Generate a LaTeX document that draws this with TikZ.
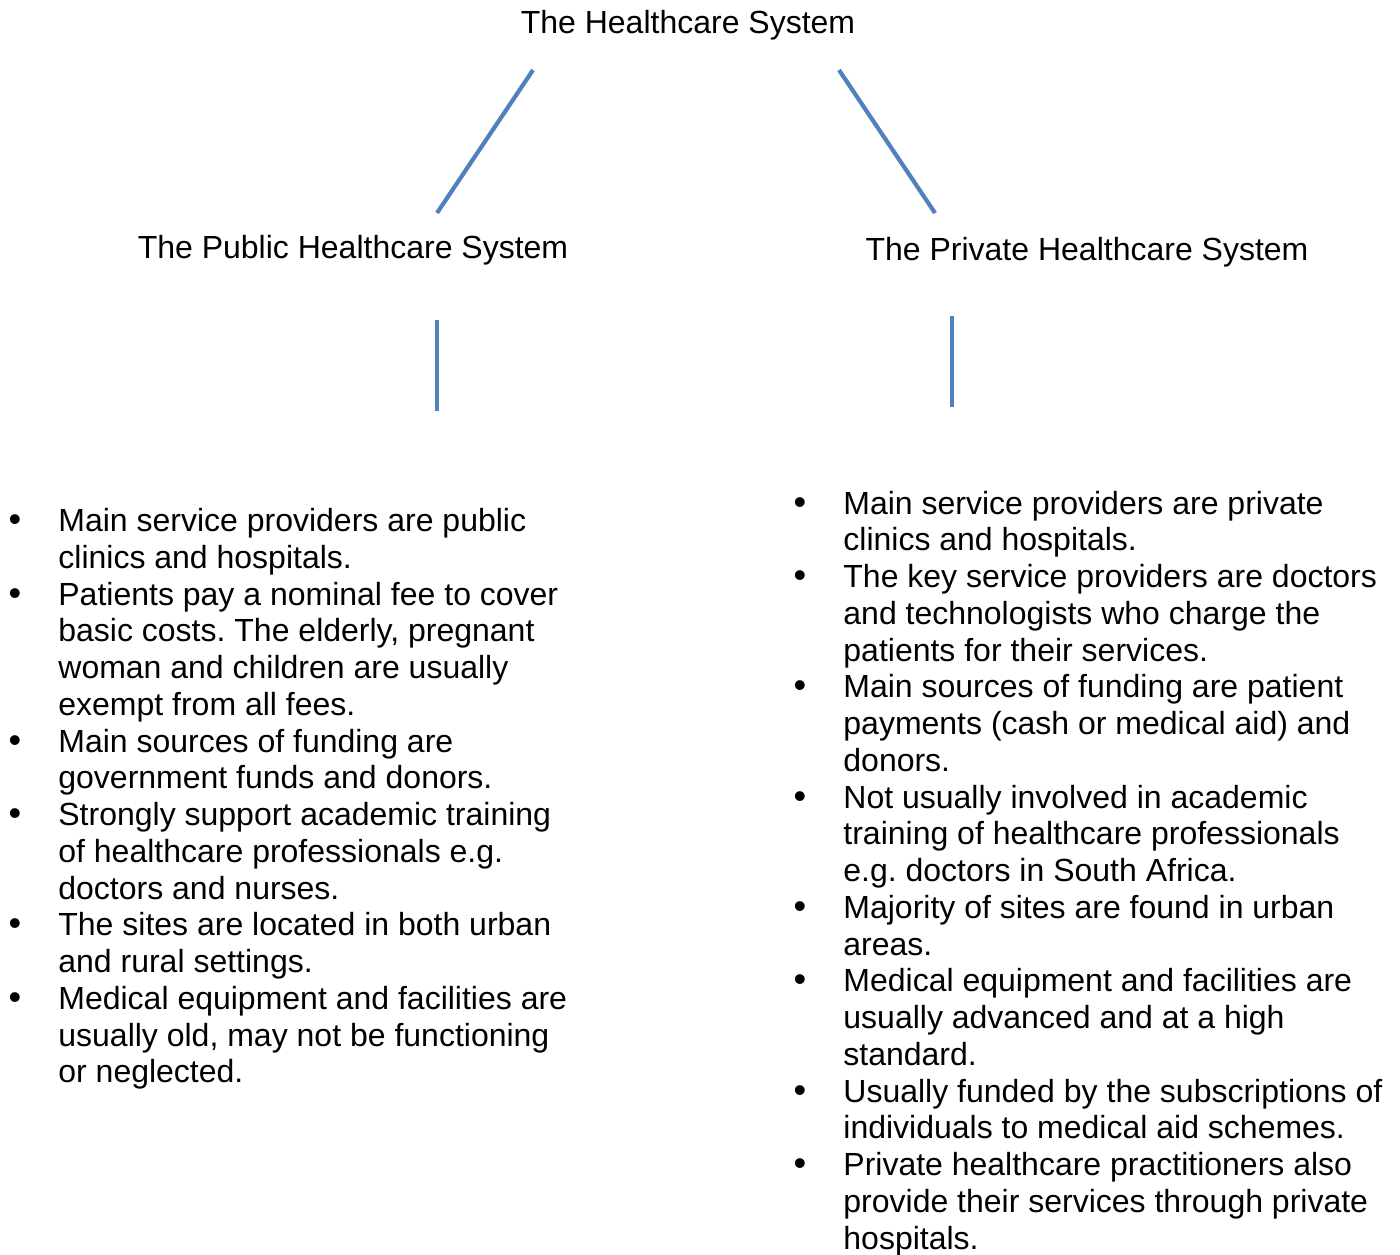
\documentclass[tikz,border=0pt]{standalone}
\usepackage{fontspec}
\setmainfont{Liberation Sans}
\definecolor{linkblue}{HTML}{4F81BD}
\newcommand{\itemlines}[1]{\parbox[t]{275pt}{#1}}
\tikzset{
  conn/.style={draw=linkblue, line width=2.1pt},
  txt/.style={inner sep=0pt, font=\fontsize{16}{18.375}\selectfont\frenchspacing},
  head/.style={txt, anchor=base},
  itemtext/.style={txt, anchor=base west},
  bul/.style={txt, anchor=base, font=\fontsize{18}{18.375}\selectfont},
}
\begin{document}
\begin{tikzpicture}[x=0.5pt,y=-0.5pt]
\useasboundingbox (0,0) rectangle (1400,1254);

% headings
\node[head] (root) at (688,33) {The Healthcare System};
\node[head] (pub) at (353,258) {The Public Healthcare System};
\node[head] (priv) at (1087,260) {The Private Healthcare System};

% connector end points
\coordinate (rootL) at (533,70);
\coordinate (pubT) at (437,213);
\coordinate (rootR) at (839,70);
\coordinate (privT) at (935,213);
\coordinate (pubB1) at (437,320);
\coordinate (pubB2) at (437,411);
\coordinate (privB1) at (952,316);
\coordinate (privB2) at (952,407);

\draw[conn] (rootL) -- (pubT);
\draw[conn] (rootR) -- (privT);
\draw[conn] (pubB1) -- (pubB2);
\draw[conn] (privB1) -- (privB2);

% left list
\node[bul] (lb1) at (15,531.5) {•};
\node[itemtext] (l1) at (58,531.5) {\itemlines{Main service providers are public\\clinics and hospitals.}};
\node[bul] (lb2) at (15,605) {•};
\node[itemtext] (l2) at (58,605) {\itemlines{Patients pay a nominal fee to cover\\basic costs. The elderly, pregnant\\woman and children are usually\\exempt from all fees.}};
\node[bul] (lb3) at (15,752) {•};
\node[itemtext] (l3) at (58,752) {\itemlines{Main sources of funding are\\government funds and donors.}};
\node[bul] (lb4) at (15,825.5) {•};
\node[itemtext] (l4) at (58,825.5) {\itemlines{Strongly support academic training\\of healthcare professionals e.g.\\doctors and nurses.}};
\node[bul] (lb5) at (15,935.75) {•};
\node[itemtext] (l5) at (58,935.75) {\itemlines{The sites are located in both urban\\and rural settings.}};
\node[bul] (lb6) at (15,1009.25) {•};
\node[itemtext] (l6) at (58,1009.25) {\itemlines{Medical equipment and facilities are\\usually old, may not be functioning\\or neglected.}};

% right list
\node[bul] (rb1) at (800,514) {•};
\node[itemtext] (r1) at (843,514) {\itemlines{Main service providers are private\\clinics and hospitals.}};
\node[bul] (rb2) at (800,587.5) {•};
\node[itemtext] (r2) at (843,587.5) {\itemlines{The key service providers are doctors\\and technologists who charge the\\patients for their services.}};
\node[bul] (rb3) at (800,697.75) {•};
\node[itemtext] (r3) at (843,697.75) {\itemlines{Main sources of funding are patient\\payments (cash or medical aid) and\\donors.}};
\node[bul] (rb4) at (800,808) {•};
\node[itemtext] (r4) at (843,808) {\itemlines{Not usually involved in academic\\training of healthcare professionals\\e.g. doctors in South Africa.}};
\node[bul] (rb5) at (800,918.25) {•};
\node[itemtext] (r5) at (843,918.25) {\itemlines{Majority of sites are found in urban\\areas.}};
\node[bul] (rb6) at (800,991.75) {•};
\node[itemtext] (r6) at (843,991.75) {\itemlines{Medical equipment and facilities are\\usually advanced and at a high\\standard.}};
\node[bul] (rb7) at (800,1102) {•};
\node[itemtext] (r7) at (843,1102) {\itemlines{Usually funded by the subscriptions of\\individuals to medical aid schemes.}};
\node[bul] (rb8) at (800,1175.5) {•};
\node[itemtext] (r8) at (843,1175.5) {\itemlines{Private healthcare practitioners also\\provide their services through private\\hospitals.}};
\end{tikzpicture}
\end{document}
